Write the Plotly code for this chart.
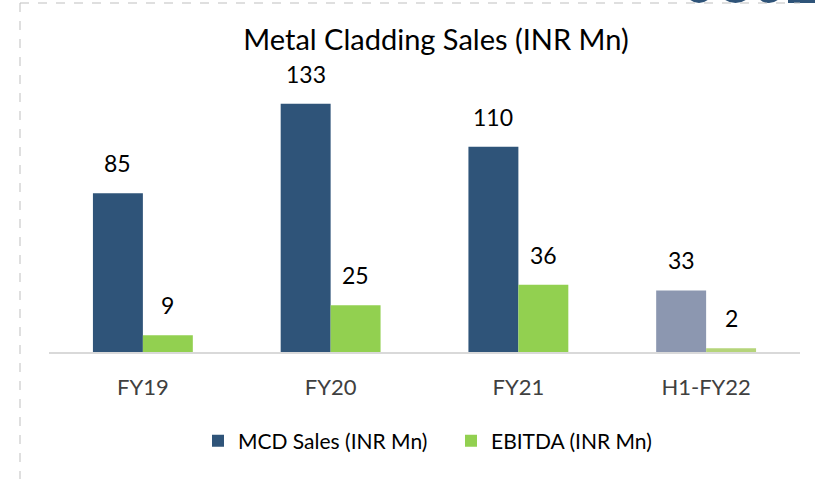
import plotly.graph_objects as go

categories = ["FY19", "FY20", "FY21", "H1-FY22"]
mcd_sales = [85, 133, 110, 33]
ebitda = [9, 25, 36, 2]
mcd_colors = ["#2F5479", "#2F5479", "#2F5479", "#8C97B0"]
ebitda_colors = ["#92D050", "#92D050", "#92D050", "#B5D47A"]

FONT = "Lato, 'Open Sans', sans-serif"

fig = go.Figure()
fig.add_trace(go.Bar(x=categories, y=mcd_sales, name="MCD Sales (INR Mn)",
                     marker=dict(color=mcd_colors, line=dict(width=0))))
fig.add_trace(go.Bar(x=categories, y=ebitda, name="EBITDA (INR Mn)",
                     marker=dict(color=ebitda_colors, line=dict(width=0))))

annotations = []
for c, v in zip(categories, mcd_sales):
    annotations.append(dict(x=c, y=v, text=str(v), showarrow=False, xshift=-25,
                            yanchor="bottom", yshift=14,
                            font=dict(size=23, color="#000000", family=FONT)))
for c, v in zip(categories, ebitda):
    annotations.append(dict(x=c, y=v, text=str(v), showarrow=False, xshift=25,
                            yanchor="bottom", yshift=14,
                            font=dict(size=23, color="#000000", family=FONT)))

def px_x(p):
    return (p - 49) / 751

def px_y(p):
    return (352 - p) / 280

shapes = [
    dict(type="line", xref="paper", yref="paper",
         x0=px_x(20), x1=px_x(20), y0=px_y(3), y1=px_y(479),
         line=dict(color="#BFBFBF", width=1, dash="dash")),
    dict(type="line", xref="paper", yref="paper",
         x0=px_x(20), x1=px_x(800), y0=px_y(3), y1=px_y(3),
         line=dict(color="#BFBFBF", width=1, dash="dash")),
]
# partial logo peeking in at top-right
for a, b in [(685, 713), (719, 752), (755, 783)]:
    shapes.append(dict(type="circle", xref="paper", yref="paper", layer="below",
                       x0=px_x(a), x1=px_x(b), y0=px_y(-25), y1=px_y(3),
                       fillcolor="#2F5479", line=dict(width=0)))
shapes.append(dict(type="rect", xref="paper", yref="paper", layer="below",
                   x0=px_x(788), x1=px_x(815), y0=px_y(-10), y1=px_y(3),
                   fillcolor="#2F5479", line=dict(width=0)))

fig.update_layout(
    width=823, height=479,
    margin=dict(l=49, r=23, t=72, b=127),
    paper_bgcolor="white", plot_bgcolor="white",
    barmode="group", bargap=0.468, bargroupgap=0,
    title=dict(text="Metal Cladding Sales (INR Mn)", x=436 / 823, xanchor="center",
               y=1 - 40 / 479, yanchor="middle",
               font=dict(size=29, color="#000000", family=FONT)),
    font=dict(family=FONT),
    showlegend=True,
    legend=dict(orientation="h", xref="container", x=198 / 823, xanchor="left",
                yref="container", y=1 - 441 / 479, yanchor="middle",
                font=dict(size=21, color="#000000", family=FONT),
                itemwidth=30, entrywidth=208, traceorder="normal"),
    annotations=annotations,
    shapes=shapes,
)
fig.update_xaxes(showline=True, linecolor="#D9D9D9", linewidth=2, showgrid=False,
                 ticks="", ticklabelstandoff=15,
                 tickfont=dict(size=22, color="#404040", family=FONT))
fig.update_yaxes(range=[0, 150], visible=False, showgrid=False, zeroline=False)

fig.write_html("out.html", config={"displayModeBar": False},
               post_script="document.body.style.margin='0';")
